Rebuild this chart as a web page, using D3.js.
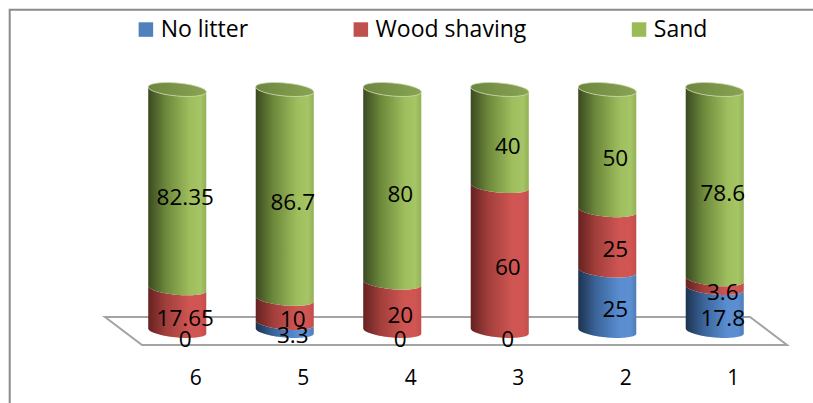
<!DOCTYPE html>
<html>
<head>
<meta charset="utf-8">
<script src="https://cdn.jsdelivr.net/npm/d3@7"></script>
<style>
  html, body { margin: 0; padding: 0; background: #fff; }
  svg { display: block; }
  text { font-family: "Open Sans", "Noto Sans", sans-serif; fill: #000; }
</style>
</head>
<body>
<svg id="chart" width="813" height="403"></svg>
<script>
// Categories (left to right) and stacked series values (percent)
const categories = ["6", "5", "4", "3", "2", "1"];
const noLitter    = [0, 3.3, 0, 0, 25, 17.8];
const woodShaving = [17.65, 10, 20, 60, 25, 3.6];
const sand        = [82.35, 86.7, 80, 40, 50, 78.6];
const seriesNames = ["No litter", "Wood shaving", "Sand"];
const seriesColors = ["#4f81bd", "#c0504d", "#9bbb59"];

// Side shading per series (dark left edge to lit right side)
const sideStops = [
  [["0", "#1d3250"], ["0.3", "#3a6398"], ["0.72", "#5a8ed2"], ["0.9", "#5c8fd0"], ["1", "#4d7db8"]],
  [["0", "#652220"], ["0.3", "#a13e3b"], ["0.72", "#d05653"], ["0.9", "#d15552"], ["1", "#c14f4c"]],
  [["0", "#3a4a20"], ["0.3", "#6c883b"], ["0.72", "#9fbe5d"], ["0.9", "#a5c566"], ["1", "#93b055"]]
];

const rows = categories.map((c, i) => ({
  cat: c,
  "No litter": noLitter[i],
  "Wood shaving": woodShaving[i],
  "Sand": sand[i]
}));

const svg = d3.select("#chart");
const defs = svg.append("defs");

sideStops.forEach((stops, i) => {
  const g = defs.append("linearGradient")
    .attr("id", "side" + i)
    .attr("x1", "0").attr("x2", "1").attr("y1", "0").attr("y2", "0");
  stops.forEach(s => g.append("stop").attr("offset", s[0]).attr("stop-color", s[1]));
});
const capGrad = defs.append("linearGradient")
  .attr("id", "cap").attr("x1", "0").attr("x2", "1").attr("y1", "0").attr("y2", "0");
capGrad.append("stop").attr("offset", "0").attr("stop-color", "#6c8640");
capGrad.append("stop").attr("offset", "1").attr("stop-color", "#89a452");

// Chart frame
svg.append("path")
  .attr("d", "M9.7,403 L9.7,9.8 L813,9.8")
  .attr("fill", "none")
  .attr("stroke", "#8c8c8c")
  .attr("stroke-width", 2);

// Scales
const x = d3.scaleBand()
  .domain(categories)
  .range([123.5, 768.5])
  .paddingInner(0.46)
  .paddingOuter(0.23);

const y = d3.scaleLinear().domain([0, 100]).range([331, 89.5]);

// Perspective parameters for the floor and cylinder caps
const depthDx = 18.5, depthDy = 14;
const ry = 6.5, shear = 2.5;
const r = x.bandwidth() / 2;

// Floor
const [fx0, fx1] = x.range();
const fy = y(0);
svg.append("path")
  .attr("d", d3.line()([
    [fx0 - depthDx, fy - depthDy],
    [fx1 - depthDx, fy - depthDy],
    [fx1 + depthDx, fy + depthDy],
    [fx0 + depthDx, fy + depthDy]
  ]) + "Z")
  .attr("fill", "#fff")
  .attr("stroke", "#a3a3a3")
  .attr("stroke-width", 2);

// Sheared ellipse point on a cap centred at (cx, cy)
const ellPt = (cx, cy, t) => [cx + r * Math.cos(t), cy + ry * Math.sin(t) + shear * Math.cos(t)];
const arc = (cx, cy, t0, t1, n = 40) =>
  d3.range(n + 1).map(k => ellPt(cx, cy, t0 + (t1 - t0) * k / n));

const stack = d3.stack().keys(seriesNames);
const layers = stack(rows);

const bars = svg.append("g");
categories.forEach((c, ci) => {
  const cx = x(c) + r;
  layers.forEach((layer, si) => {
    const d = layer[ci];
    const yb = y(d[0]), yt = y(d[1]);
    if (d[1] - d[0] <= 0) return;
    // side: front arc of the bottom cap, up the right side, front arc of the top cap back
    const pts = [
      ...arc(cx, yb, Math.PI, 0),
      ...arc(cx, yt, 0, Math.PI)
    ];
    bars.append("path")
      .attr("d", d3.line()(pts) + "Z")
      .attr("fill", `url(#side${si})`);
  });
  // top cap of the full stack
  const top = layers[layers.length - 1][ci][1];
  bars.append("path")
    .attr("d", d3.line()(arc(cx, y(top), 0, 2 * Math.PI, 80)) + "Z")
    .attr("fill", "url(#cap)")
    .attr("stroke", "#c9d7ab")
    .attr("stroke-width", 0.8);
});

// Value labels
const labels = svg.append("g").attr("font-size", 22.5).attr("text-anchor", "middle");
layers.forEach((layer, si) => {
  layer.forEach((d, ci) => {
    const v = d[1] - d[0];
    labels.append("text")
      .attr("x", x(categories[ci]) + r + 8)
      .attr("y", y((d[0] + d[1]) / 2) + 8)
      .attr("dy", "0.36em")
      .text(String(+v.toFixed(2)));
  });
});

// Category axis
const axis = svg.append("g")
  .attr("transform", `translate(${depthDx},${fy + 54})`)
  .call(d3.axisBottom(x).tickSize(0).tickPadding(0));
axis.select(".domain").remove();
axis.selectAll("text")
  .attr("font-size", 21)
  .attr("font-family", "\"Open Sans\", \"Noto Sans\", sans-serif")
  .attr("fill", "#000")
  .attr("dy", "0");

// Legend
const legend = svg.append("g").attr("font-size", 23);
const items = seriesNames.map((name, i) => {
  const g = legend.append("g");
  g.append("rect").attr("width", 14.5).attr("height", 14.5).attr("y", 22.3)
    .attr("fill", seriesColors[i]);
  const t = g.append("text").attr("x", 22).attr("y", 37.3).text(name);
  return { g, w: 22 + t.node().getComputedTextLength() };
});
const gap = 105.5;
const total = d3.sum(items, d => d.w) + gap * (items.length - 1);
let lx = 423 - total / 2;
items.forEach(it => {
  it.g.attr("transform", `translate(${lx},0)`);
  lx += it.w + gap;
});
</script>
</body>
</html>
